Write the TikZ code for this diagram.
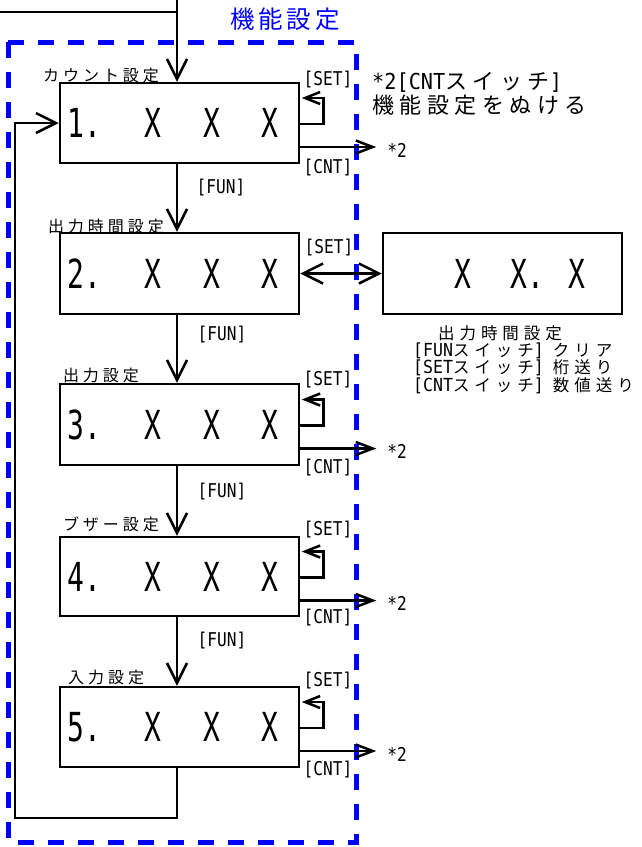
\documentclass[tikz,border=0pt]{standalone}
\usepackage{fontspec}
\setmainfont{Noto Sans CJK JP}
\newfontfamily\jp[LetterSpace=25]{Noto Sans CJK JP}
\newfontfamily\lat[FakeStretch=0.92]{DejaVu Sans Mono}
\newfontfamily\latl[FakeStretch=0.85]{DejaVu Sans Mono}
\newfontfamily\latb[FakeStretch=0.7]{DejaVu Sans Mono}
\usetikzlibrary{arrows.meta}
\tikzset{
  box/.style={draw, line width=2.5pt, minimum width=239pt, minimum height=80pt, inner sep=0pt},
  ln/.style={line width=2.5pt},
  bigarr/.style={ln, -{Straight Barb[length=20pt,width=20pt]}},
  smarr/.style={ln, -{Straight Barb[length=17pt,width=13pt]}},
  looparr/.style={ln, -{Straight Barb[length=15pt,width=12pt]}},
  lbl/.style={inner sep=0pt, font={\fontsize{19pt}{22pt}\latl}},
  jlbl/.style={inner sep=0pt, font={\fontsize{16pt}{19pt}\jp}},
  big/.style={inner sep=0pt, anchor=west, font={\fontsize{40pt}{44pt}\latb}},
  rcol/.style={inner sep=0pt, font={\fontsize{18pt}{20pt}\lat}},
}
\newcommand\rjp{\fontsize{16.5pt}{20pt}\jp\addfontfeature{LetterSpace=30}}
\begin{document}
\begin{tikzpicture}[x=1pt,y=-1pt]
\useasboundingbox (0,0) rectangle (641,847);
% dashed frame
\draw[blue, line width=5pt, dash pattern=on 16pt off 14pt] (8,42) rectangle (356,842);
\node[inner sep=0pt, text=blue, font={\fontsize{24.5pt}{28pt}\jp\addfontfeature{LetterSpace=16}}] (title) at (285,19) {機能設定};
% boxes
\node[box] (b1) at (179.5,123) {};
\node[box, minimum height=81pt] (b2) at (179.5,273.5) {};
\node[box, minimum height=81pt] (b3) at (179.5,424.5) {};
\node[box, minimum height=79pt] (b4) at (179.5,576.5) {};
\node[box] (b5) at (179.5,727) {};
\node[box, minimum height=81pt] (r) at (502.5,273.5) {};
% box texts
\node[big] (t1) at (67,123) {\makebox[0pt][l]{1.}\hspace{86pt}\makebox[0pt]{X}\hspace{59pt}\makebox[0pt]{X}\hspace{58pt}\makebox[0pt]{X}};
\node[big] (t2) at (67,273.5) {\makebox[0pt][l]{2.}\hspace{86pt}\makebox[0pt]{X}\hspace{59pt}\makebox[0pt]{X}\hspace{58pt}\makebox[0pt]{X}};
\node[big] (t3) at (67,424.5) {\makebox[0pt][l]{3.}\hspace{86pt}\makebox[0pt]{X}\hspace{59pt}\makebox[0pt]{X}\hspace{58pt}\makebox[0pt]{X}};
\node[big] (t4) at (67,576.5) {\makebox[0pt][l]{4.}\hspace{86pt}\makebox[0pt]{X}\hspace{59pt}\makebox[0pt]{X}\hspace{58pt}\makebox[0pt]{X}};
\node[big] (t5) at (67,727) {\makebox[0pt][l]{5.}\hspace{86pt}\makebox[0pt]{X}\hspace{59pt}\makebox[0pt]{X}\hspace{58pt}\makebox[0pt]{X}};
\node[big] (tr) at (463,273.5) {\makebox[0pt]{X}\hspace{56pt}\makebox[0pt]{\phantom{.}X.}\hspace{58pt}\makebox[0pt]{X}};
% box name labels
\node[jlbl] (n1) at (101,75) {カウント設定};
\node[jlbl] (n2) at (106,226) {出力時間設定};
\node[jlbl] (n3) at (101,375) {出力設定};
\node[jlbl] (n4) at (111,524.5) {ブザー設定};
\node[jlbl] (n5) at (106,677) {入力設定};
% top entry
\coordinate (lt) at (0,12);
\coordinate (tp) at (0,0);
\draw[ln] (lt) -- ([xshift=-2.5pt]lt -| b1.north);
\draw[bigarr] ([xshift=-2.5pt]tp -| b1.north) -- ([xshift=-2.5pt]b1.north);
% FUN arrows
\draw[bigarr] ([xshift=-2.5pt]b1.south) -- ([xshift=-2.5pt]b2.north);
\draw[bigarr] ([xshift=-2.5pt]b2.south) -- ([xshift=-2.5pt]b3.north);
\draw[bigarr] ([xshift=-2.5pt]b3.south) -- ([xshift=-2.5pt]b4.north);
\draw[bigarr] ([xshift=-2.5pt]b4.south) -- ([xshift=-2.5pt]b5.north);
\node[lbl] (f1) at (221,188) {[FUN]};
\node[lbl] (f2) at (222,335) {[FUN]};
\node[lbl] (f3) at (222,492) {[FUN]};
\node[lbl] (f4) at (222,641) {[FUN]};
% return line
\coordinate (rl) at (15,818);
\draw[bigarr] ([xshift=-2.5pt]b5.south) |- (rl) |- (b1.west);
% SET loops
\foreach \b in {b1,b3,b4,b5}{
  \draw[looparr] ([yshift=-1pt]\b.east) -| ([xshift=23pt,yshift=25pt]\b.east) -- ([xshift=1.5pt,yshift=25pt]\b.east);
}
\node[lbl] (s1) at (328,80) {[SET]};
\node[lbl] (s3) at (328,380) {[SET]};
\node[lbl] (s4) at (328,530) {[SET]};
\node[lbl] (s5) at (328,681) {[SET]};
% SET double arrow
\draw[ln, {Straight Barb[length=20pt,width=20pt]}-{Straight Barb[length=20pt,width=20pt]}] (b2.east) -- (r.west);
\node[lbl] (s2) at (329,248) {[SET]};
% CNT arrows
\foreach \b/\i in {b1/1,b3/3,b4/4,b5/5}{
  \coordinate (c\i) at ([xshift=76pt,yshift=-24pt]\b.east);
  \draw[smarr] ([yshift=-24pt]\b.east) -- (c\i);
  \node[lbl, anchor=west] (k\i) at ([xshift=11pt,yshift=-3pt]c\i) {*2};
}
\node[lbl] (cn1) at (328,168) {[CNT]};
\node[lbl] (cn3) at (328,468) {[CNT]};
\node[lbl] (cn4) at (328,618) {[CNT]};
\node[lbl] (cn5) at (328,770) {[CNT]};
% note top right
\node[anchor=west, inner sep=0pt, font={\fontsize{22pt}{26pt}\lat}] (nt1) at (372,82) {*2[CNT{\jp スイッチ}]};
\node[anchor=west, inner sep=0pt, font={\fontsize{22pt}{26pt}\jp}] (nt2) at (372,105) {機能設定をぬける};
% right column text
\node[inner sep=0pt, font=\rjp] (rc0) at (500,333) {出力時間設定};
\node[rcol, anchor=west] (rc1) at (413,351) {[FUN{\rjp スイッチ}]\hspace{9pt}{\rjp クリア}};
\node[rcol, anchor=west] (rc2) at (413,368) {[SET{\rjp スイッチ}]\hspace{9pt}{\rjp 桁送り}};
\node[rcol, anchor=west] (rc3) at (413,386) {[CNT{\rjp スイッチ}]\hspace{9pt}{\rjp 数値送り}};
\end{tikzpicture}
\end{document}
